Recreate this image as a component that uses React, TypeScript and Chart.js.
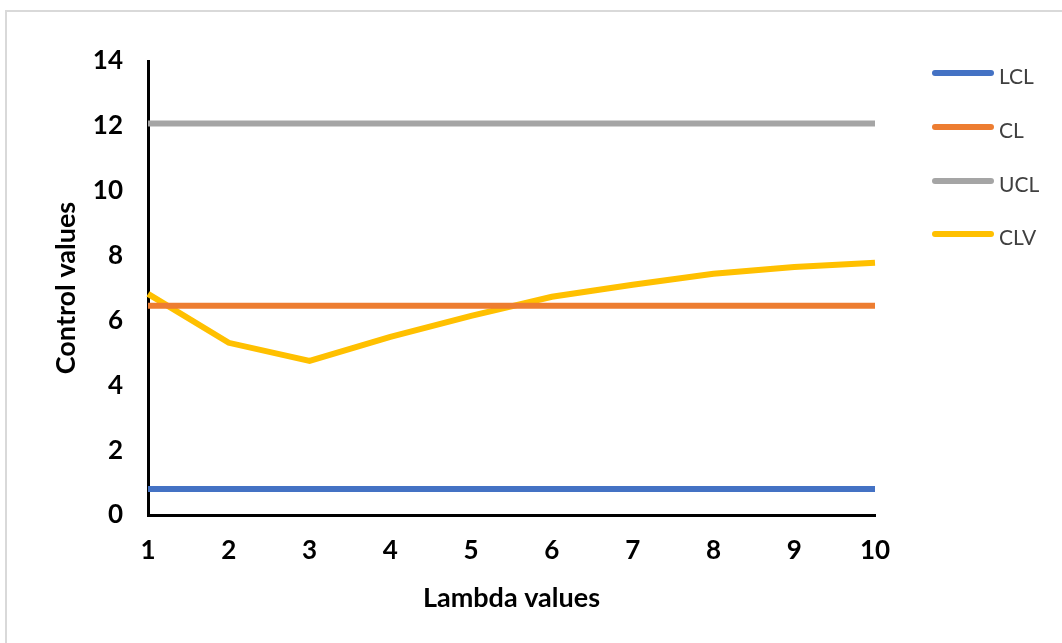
import React, { useEffect, useRef } from "react";
import { Chart, registerables } from "chart.js";

Chart.register(...registerables);

// Lambda values along the horizontal axis
const lambdaLabels = ["1", "2", "3", "4", "5", "6", "7", "8", "9", "10"];

// Control limits and the computed control line values
const lclValues = [0.8, 0.8, 0.8, 0.8, 0.8, 0.8, 0.8, 0.8, 0.8, 0.8];
const clValues = [6.45, 6.45, 6.45, 6.45, 6.45, 6.45, 6.45, 6.45, 6.45, 6.45];
const uclValues = [12.07, 12.07, 12.07, 12.07, 12.07, 12.07, 12.07, 12.07, 12.07, 12.07];
const clvValues = [6.82, 5.31, 4.75, 5.49, 6.14, 6.73, 7.1, 7.44, 7.65, 7.78];

const seriesNames = ["LCL", "CL", "UCL", "CLV"];
const seriesColors = ["#4472C4", "#ED7D31", "#A5A5A5", "#FFC000"];

const yTickMin = 0;
const yTickMax = 14;
const yTickStep = 2;

const FONT = "Lato, 'Open Sans', sans-serif";

export default function App() {
  const canvasRef = useRef<HTMLCanvasElement | null>(null);

  useEffect(() => {
    const canvas = canvasRef.current;
    if (!canvas) return;
    const seriesValues = [lclValues, clValues, uclValues, clvValues];
    const chart = new Chart(canvas, {
      type: "line",
      data: {
        labels: lambdaLabels,
        datasets: seriesNames.map((name, i) => ({
          label: name,
          data: seriesValues[i],
          borderColor: seriesColors[i],
          backgroundColor: seriesColors[i],
          borderWidth: 6,
          pointRadius: 0,
          pointHoverRadius: 0,
          tension: 0,
          fill: false,
        })),
      },
      options: {
        responsive: false,
        animation: false,
        events: [],
        layout: { padding: { top: 61, right: 187, bottom: 0, left: 0 } },
        plugins: {
          legend: { display: false },
          tooltip: { enabled: false },
        },
        scales: {
          x: {
            type: "category",
            offset: false,
            grid: { display: false, drawTicks: false },
            border: { display: true, color: "#000000", width: 3 },
            ticks: {
              color: "#000000",
              padding: 20,
              maxRotation: 0,
              font: { family: FONT, size: 26, weight: "bold" },
            },
            title: {
              display: true,
              text: "Lambda values",
              color: "#000000",
              padding: { top: 0, bottom: 29 },
              font: { family: FONT, size: 27, weight: "bold" },
            },
            afterFit: (scale: any) => {
              scale.height = 128;
            },
          },
          y: {
            min: yTickMin,
            max: yTickMax,
            grid: { display: false, drawTicks: false },
            border: { display: true, color: "#000000", width: 3 },
            ticks: {
              stepSize: yTickStep,
              color: "#000000",
              padding: 25,
              font: { family: FONT, size: 26, weight: "bold" },
            },
            title: {
              display: true,
              text: "Control values",
              color: "#000000",
              padding: { top: 50, bottom: 0 },
              font: { family: FONT, size: 27, weight: "bold" },
            },
            afterFit: (scale: any) => {
              scale.width = 148;
            },
          },
        },
      },
    });
    return () => chart.destroy();
  }, []);

  const legendTops = [73, 127, 181, 234];

  return (
    <div
      style={{
        position: "absolute",
        left: 0,
        top: 0,
        width: 1062,
        height: 643,
        background: "#ffffff",
        overflow: "hidden",
        fontFamily: FONT,
      }}
    >
      <div
        style={{
          position: "absolute",
          left: 5,
          top: 10,
          width: 1100,
          height: 700,
          borderTop: "2px solid #D9D9D9",
          borderLeft: "2px solid #D9D9D9",
        }}
      />
      <canvas
        ref={canvasRef}
        width={1062}
        height={643}
        style={{ position: "absolute", left: 0, top: 0, width: 1062, height: 643 }}
      />
      {seriesNames.map((name, i) => (
        <div
          key={name}
          style={{
            position: "absolute",
            left: 932,
            top: legendTops[i] - 15,
            height: 30,
            display: "flex",
            alignItems: "center",
          }}
        >
          <div
            style={{
              width: 62,
              height: 6,
              borderRadius: 3,
              background: seriesColors[i],
            }}
          />
          <span
            style={{
              marginLeft: 5,
              marginTop: 5,
              fontSize: 21,
              color: "#404040",
              lineHeight: "30px",
            }}
          >
            {name}
          </span>
        </div>
      ))}
    </div>
  );
}
